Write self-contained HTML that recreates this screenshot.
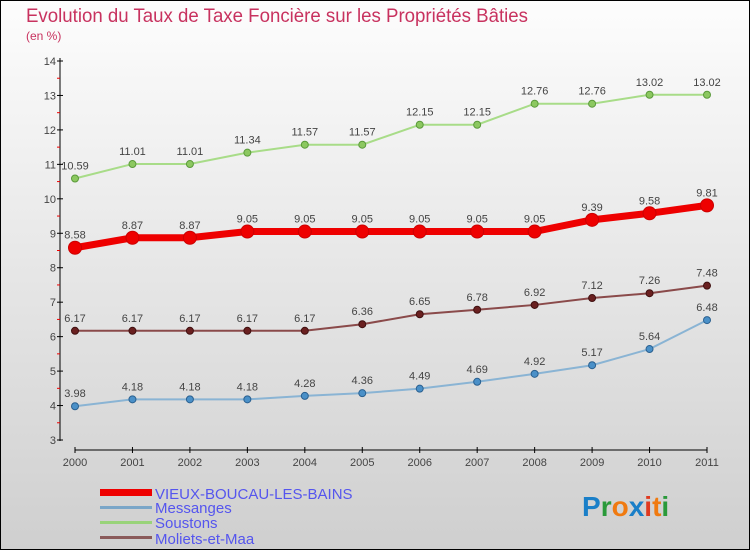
<!DOCTYPE html>
<html><head><meta charset="utf-8"><style>
html,body{margin:0;padding:0}
body{width:750px;height:550px;overflow:hidden;font-family:"Liberation Sans",sans-serif}
</style></head><body>
<svg id="chart" width="750" height="550" xmlns="http://www.w3.org/2000/svg" font-family="Liberation Sans, sans-serif">
<defs><linearGradient id="bg" x1="0" y1="0" x2="0" y2="1"><stop offset="0" stop-color="#fdfdfd"/><stop offset="1" stop-color="#cfcfcf"/></linearGradient></defs>
<rect x="0.5" y="0.5" width="749" height="549" fill="url(#bg)" stroke="#000"/>
<text x="26" y="22" font-size="19" fill="#c8325f" textLength="502" lengthAdjust="spacingAndGlyphs">Evolution du Taux de Taxe Foncière sur les Propriétés Bâties</text>
<text x="26" y="40" font-size="12" fill="#c8325f">(en %)</text>
<g id="axes"></g><g id="series"></g>
<g font-size="15" fill="#5555ee">
<rect x="100" y="489" width="52" height="7" fill="#ee0000"/>
<text x="155" y="499">VIEUX-BOUCAU-LES-BAINS</text>
<rect x="100" y="506" width="52" height="3" fill="#7aa6c8"/>
<text x="155" y="513">Messanges</text>
<rect x="100" y="521" width="52" height="3" fill="#99d37a"/>
<text x="155" y="528">Soustons</text>
<rect x="100" y="536" width="52" height="3" fill="#8a5a5a"/>
<text x="155" y="544">Moliets-et-Maa</text>
</g>
<text x="582" y="516" font-size="28" font-weight="bold"><tspan fill="#1a7fc8">P</tspan><tspan fill="#2a9a3a">r</tspan><tspan fill="#f07a10">o</tspan><tspan fill="#1a7fc8">x</tspan><tspan fill="#e03a20">i</tspan><tspan fill="#f07a10">t</tspan><tspan fill="#2a9a3a">i</tspan></text>
</svg>
<script>
const years=[2000,2001,2002,2003,2004,2005,2006,2007,2008,2009,2010,2011];
const yTicks=[3,4,5,6,7,8,9,10,11,12,13,14];
const vieux=[8.58,8.87,8.87,9.05,9.05,9.05,9.05,9.05,9.05,9.39,9.58,9.81];
const messanges=[3.98,4.18,4.18,4.18,4.28,4.36,4.49,4.69,4.92,5.17,5.64,6.48];
const soustons=[10.59,11.01,11.01,11.34,11.57,11.57,12.15,12.15,12.76,12.76,13.02,13.02];
const moliets=[6.17,6.17,6.17,6.17,6.17,6.36,6.65,6.78,6.92,7.12,7.26,7.48];
const NS="http://www.w3.org/2000/svg";
const xS=i=>75+i*(707-75)/11;
const yS=v=>440-(v-3)*(440-61)/11;
function mk(t,a,p){const e=document.createElementNS(NS,t);for(const k in a)e.setAttribute(k,a[k]);p.appendChild(e);return e;}
const ax=document.getElementById('axes');
let l=mk('line',{x1:60,y1:58,x2:60,y2:441,stroke:'#000'},ax);


l=mk('line',{x1:75,y1:450,x2:707,y2:450,stroke:'#000'},ax);


yTicks.forEach(v=>{const y=yS(v);
mk('line',{x1:57,y1:y,x2:63,y2:y,stroke:'#000'},ax);
if(v<14)mk('line',{x1:57,y1:yS(v+0.5),x2:60,y2:yS(v+0.5),stroke:'#e00'},ax);
const t=mk('text',{x:56,y:y+4,'font-size':11,fill:'#444','text-anchor':'end'},ax);t.textContent=v;

});
years.forEach((yr,i)=>{const x=xS(i);
mk('line',{x1:x,y1:447,x2:x,y2:453,stroke:'#000'},ax);
const t=mk('text',{x:x,y:466,'font-size':11,fill:'#444','text-anchor':'middle'},ax);t.textContent=yr;

});
const sg=document.getElementById('series');
function series(vals,name,col,w,r,dot,stroke){
const g=mk('g',{},sg);


const p=mk('polyline',{points:vals.map((v,i)=>xS(i)+','+yS(v)).join(' '),fill:'none',stroke:col,'stroke-width':w},g);


vals.forEach((v,i)=>{const c=mk('circle',{cx:xS(i),cy:yS(v),r:r,fill:dot,stroke:stroke,'stroke-width':1},g);


const t=mk('text',{x:xS(i),y:yS(v)-9,'font-size':11,fill:'#444','text-anchor':'middle'},g);t.textContent=v;

});}
series(soustons,'soustons','#a8dc88',2,3.5,'#8cc860','#5a9a3a');
series(messanges,'messanges','#8ab4d4',2,3.5,'#4a90c8','#2a6090');
series(moliets,'moliets','#8a4a4a',2,3.5,'#6a2020','#401010');
series(vieux,'vieux-boucau','#ee0000',7,6.5,'#ee0000','#cc0000');
</script>
</body></html>
